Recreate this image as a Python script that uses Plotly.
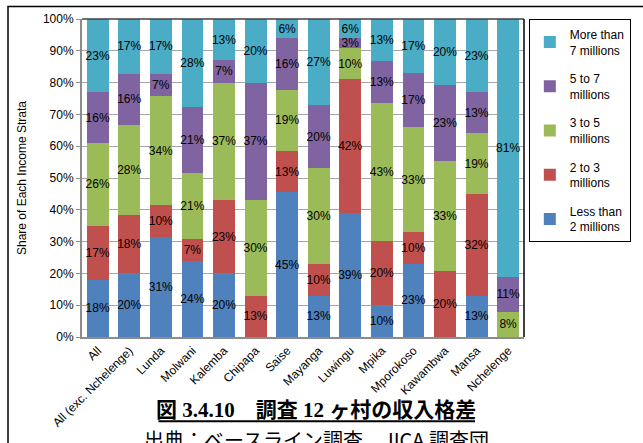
import plotly.graph_objects as go

categories = ["All", "All (exc. Nchelenge)", "Lunda", "Molwani", "Kalemba", "Chipapa",
              "Saise", "Mayanga", "Luwingu", "Mpika", "Mporokoso", "Kawambwa", "Mansa", "Nchelenge"]
less_than_2 = [18, 20, 31, 24, 20, None, 45, 13, 39, 10, 23, None, 13, None]
two_to_3 = [17, 18, 10, 7, 23, 13, 13, 10, 42, 20, 10, 20, 32, None]
three_to_5 = [26, 28, 34, 21, 37, 30, 19, 30, 10, 43, 33, 33, 19, 8]
five_to_7 = [16, 16, 7, 21, 7, 37, 16, 20, 3, 13, 17, 23, 13, 11]
more_than_7 = [23, 17, 17, 28, 13, 20, 6, 27, 6, 13, 17, 20, 23, 81]

series = [
    ("Less than<br>2 millions", less_than_2, "#4F81BD"),
    ("2 to 3<br>millions", two_to_3, "#C0504D"),
    ("3 to 5<br>millions", three_to_5, "#9BBB59"),
    ("5 to 7<br>millions", five_to_7, "#8064A2"),
    ("More than<br>7 millions", more_than_7, "#4BACC6"),
]

FONT = "Liberation Sans, Arial, sans-serif"

fig = go.Figure()
n = len(series)
for i, (name, vals, color) in enumerate(series):
    fig.add_trace(go.Bar(
        x=categories, y=vals, name=name, legendgroup=name,
        legendrank=n - i,
        marker=dict(color=color, line=dict(width=0)),
        text=[None if v is None else f"{v}%" for v in vals],
        textposition="inside", insidetextanchor="middle", textangle=0,
        constraintext="none",
        textfont=dict(family=FONT, size=12, color="black"),
        hoverinfo="skip",
    ))

W, H = 643, 443
L, R, T, B = 82, 533, 16, 337
pw, ph = R - L, B - T


def px(x):
    return (x - L) / pw


def py(y):
    return (B - y) / ph


fig.update_layout(
    width=W, height=H,
    margin=dict(l=L, r=W - R, t=T, b=H - B),
    barmode="stack", barnorm="percent", bargap=0.31,
    paper_bgcolor="white", plot_bgcolor="white",
    font=dict(family=FONT, size=12, color="black"),
    showlegend=True,
    legend=dict(
        traceorder="grouped", tracegroupgap=10,
        x=px(642), y=1.0, xanchor="right", yanchor="top",
        bordercolor="black", borderwidth=1, bgcolor="white",
        font=dict(family=FONT, size=12, color="black"),
        itemwidth=30,
    ),
    xaxis=dict(
        tickangle=-45, tickfont=dict(family=FONT, size=12, color="black"),
        showline=True, linecolor="#8C8C8C", linewidth=2, ticks="",
        showgrid=False,
    ),
    yaxis=dict(
        range=[0, 100], dtick=10, ticksuffix="%",
        tickfont=dict(family=FONT, size=12, color="black"),
        showline=True, linecolor="#8C8C8C", linewidth=2,
        ticks="outside", ticklen=4, tickcolor="#8C8C8C",
        showgrid=True, gridcolor="#A6A6A6", gridwidth=1,
        title=dict(text="Share of Each Income Strata",
                   font=dict(family=FONT, size=12, color="black"), standoff=14),
        zeroline=False,
    ),
    uniformtext=dict(mode=False),
)

# plot-area top/right border and outer frame
fig.add_shape(type="line", xref="paper", yref="paper", x0=0, x1=1, y0=1, y1=1,
              line=dict(color="#404040", width=1.5))
fig.add_shape(type="line", xref="paper", yref="paper", x0=1, x1=1, y0=0, y1=1,
              line=dict(color="black", width=1.5))
fig.add_shape(type="rect", xref="paper", yref="paper",
              x0=px(6.5), x1=px(680), y0=py(480), y1=py(3.5),
              line=dict(color="black", width=1.5), layer="below")

cap_font = "Liberation Serif, 'Noto Sans CJK JP', serif"
fig.add_annotation(
    xref="paper", yref="paper", x=px(321), y=py(411), xanchor="center", yanchor="middle",
    text="<b>図 3.4.10　調査 12 ヶ村の収入格差</b>", showarrow=False,
    font=dict(family=cap_font, size=21, color="black"),
)
fig.add_shape(type="line", xref="paper", yref="paper", x0=px(160), x1=px(483),
              y0=py(422), y1=py(422), line=dict(color="black", width=2))
fig.add_annotation(
    xref="paper", yref="paper", x=px(321), y=py(440), xanchor="center", yanchor="middle",
    text="出典：ベースライン調査、JICA 調査団", showarrow=False,
    font=dict(family="'Noto Sans CJK JP', sans-serif", size=20, color="black"),
)

fig.write_html("out.html")
